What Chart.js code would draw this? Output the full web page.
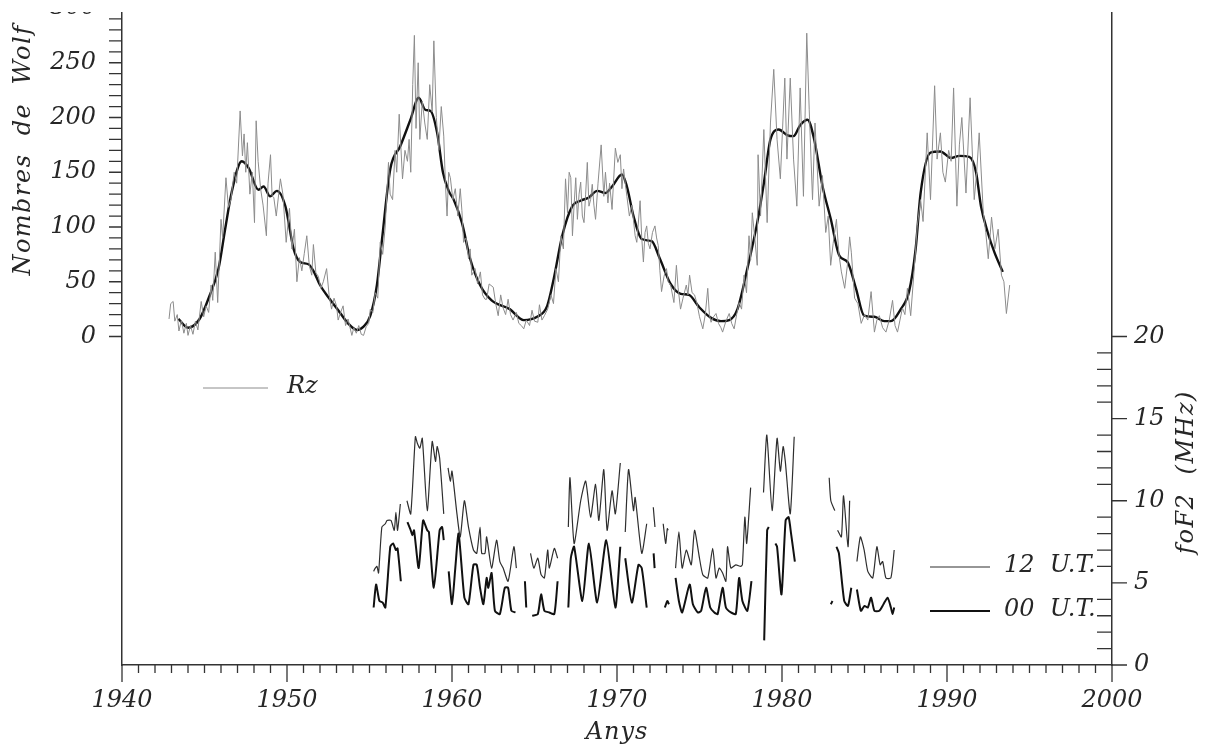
<!DOCTYPE html>
<html>
<head>
<meta charset="utf-8">
<script src="https://cdn.jsdelivr.net/npm/chart.js@4"></script>
<style>
    body { margin: 0; background: #fff; }
    canvas { display: block; }
</style>
</head>
<body>
<canvas id="myChart" width="1210" height="749"></canvas>
<script>
// eixos
const yearTicks = [1940, 1950, 1960, 1970, 1980, 1990, 2000]
const rzTicks = [0, 50, 100, 150, 200, 250, 300]
const fofTicks = [0, 5, 10, 15, 20]

// Rz mensual (línia fina)
const rzYears = [1942.85, 1942.95, 1943.1, 1943.2, 1943.35, 1943.45, 1943.6, 1943.75, 1943.9, 1944.0, 1944.15, 1944.3, 1944.45, 1944.6, 1944.8, 1944.95,
    1945.1, 1945.25, 1945.4, 1945.5, 1945.65, 1945.8, 1946.0, 1946.1, 1946.3, 1946.45, 1946.6, 1946.8, 1946.95, 1947.16, 1947.3, 1947.4, 1947.5, 1947.6, 1947.75, 1947.9,
    1948.03, 1948.13, 1948.25, 1948.4, 1948.55, 1948.75, 1948.85, 1949.0, 1949.1, 1949.2, 1949.35, 1949.6, 1949.75, 1949.95, 1950.15, 1950.3, 1950.45, 1950.6, 1950.75, 1950.9,
    1951.05, 1951.2, 1951.35, 1951.5, 1951.6, 1951.75, 1951.9, 1952.05, 1952.2, 1952.4, 1952.55, 1952.7, 1952.85, 1953.0, 1953.1, 1953.25, 1953.4, 1953.55, 1953.7, 1953.93,
    1954.05, 1954.2, 1954.35, 1954.5, 1954.64, 1954.8, 1954.95, 1955.05, 1955.2, 1955.35, 1955.5, 1955.65, 1955.8, 1955.95, 1956.05, 1956.15, 1956.25, 1956.4, 1956.55, 1956.65, 1956.8,
    1957.0, 1957.15, 1957.3, 1957.4, 1957.5, 1957.62, 1957.72, 1957.82, 1957.95, 1958.05, 1958.2, 1958.35, 1958.5, 1958.65, 1958.8, 1958.9, 1959.05, 1959.2, 1959.35, 1959.5, 1959.6, 1959.7, 1959.8, 1959.9,
    1960.05, 1960.2, 1960.35, 1960.5, 1960.6, 1960.7, 1960.85, 1961.0, 1961.1, 1961.2, 1961.4, 1961.55, 1961.72, 1961.85, 1962.0, 1962.1, 1962.25, 1962.5, 1962.65, 1962.8, 1962.95,
    1963.1, 1963.25, 1963.4, 1963.55, 1963.7, 1963.9, 1964.05, 1964.2, 1964.35, 1964.5, 1964.7, 1964.85, 1965.0, 1965.2, 1965.3, 1965.45, 1965.6, 1965.8, 1966.0, 1966.15, 1966.3, 1966.45, 1966.6, 1966.75, 1966.88,
    1967.0, 1967.1, 1967.2, 1967.3, 1967.4, 1967.5, 1967.6, 1967.7, 1967.8, 1967.9, 1968.0, 1968.1, 1968.2, 1968.3, 1968.4, 1968.5, 1968.6, 1968.7, 1968.85, 1969.04, 1969.2, 1969.3, 1969.45, 1969.55, 1969.7, 1969.9,
    1970.05, 1970.2, 1970.3, 1970.4, 1970.5, 1970.6, 1970.75, 1970.9, 1971.1, 1971.2, 1971.4, 1971.5, 1971.6, 1971.7, 1971.8, 1971.9, 1972.0, 1972.15, 1972.3, 1972.4, 1972.5, 1972.6, 1972.7, 1972.85,
    1973.0, 1973.1, 1973.25, 1973.45, 1973.6, 1973.7, 1973.85, 1974.0, 1974.2, 1974.3, 1974.4, 1974.55, 1974.7, 1974.85, 1975.0, 1975.2, 1975.35, 1975.5, 1975.6, 1975.7, 1975.85,
    1976.0, 1976.15, 1976.3, 1976.4, 1976.6, 1976.8, 1976.95, 1977.1, 1977.25, 1977.4, 1977.55, 1977.7, 1977.85, 1978.0, 1978.1, 1978.2, 1978.35, 1978.5, 1978.55, 1978.7, 1978.9,
    1979.1, 1979.3, 1979.5, 1979.7, 1979.9, 1980.17, 1980.3, 1980.5, 1980.7, 1980.9, 1981.1, 1981.3, 1981.5, 1981.65, 1981.85, 1982.0, 1982.25, 1982.45, 1982.65, 1982.8, 1982.95,
    1983.1, 1983.3, 1983.45, 1983.6, 1983.8, 1984.0, 1984.1, 1984.2, 1984.4, 1984.6, 1984.8, 1985.0, 1985.2, 1985.4, 1985.6, 1985.75, 1985.9, 1986.1, 1986.3, 1986.5, 1986.7, 1986.85,
    1987.0, 1987.15, 1987.3, 1987.45, 1987.6, 1987.8, 1988.0, 1988.2, 1988.4, 1988.55, 1988.8, 1989.0, 1989.25, 1989.4, 1989.6, 1989.75, 1989.9, 1990.1, 1990.25, 1990.4, 1990.6, 1990.75, 1990.9,
    1991.15, 1991.4, 1991.65, 1991.8, 1991.95, 1992.2, 1992.35, 1992.5, 1992.7, 1992.9, 1993.1, 1993.3, 1993.45, 1993.6, 1993.8]
const rzMonthly = [16, 30, 32, 14, 20, 5, 15, 3, 12, 1, 10, 2, 14, 6, 32, 18,
    28, 22, 47, 33, 77, 31, 107, 90, 145, 118, 125, 150, 140, 206, 165, 185, 150, 177, 130, 150,
    104, 197, 160, 135, 120, 92, 140, 166, 128, 127, 110, 144, 130, 86, 117, 80, 98, 50, 72, 60,
    76, 92, 65, 56, 84, 58, 55, 44, 50, 62, 38, 25, 35, 28, 15, 22, 28, 10, 16, 1,
    8, 3, 10, 2, 1, 9, 12, 25, 22, 40, 35, 86, 75, 100, 130, 159, 130, 125, 170, 150, 203,
    144, 170, 160, 180, 150, 230, 275, 190, 250, 180, 215, 195, 180, 230, 205, 270, 200, 170, 210, 183, 140, 110, 150, 145,
    125, 135, 110, 135, 115, 86, 90, 71, 80, 56, 62, 48, 59, 38, 34, 34, 48, 45, 30, 19, 38,
    26, 20, 34, 20, 15, 22, 12, 10, 7, 15, 10, 24, 14, 13, 29, 15, 19, 25, 38, 30, 62, 50, 92, 80, 144,
    113, 150, 145, 92, 120, 145, 107, 130, 141, 110, 104, 130, 159, 119, 125, 139, 120, 107, 140, 175, 128, 150, 122, 140, 116, 172,
    159, 166, 135, 153, 140, 128, 110, 120, 92, 86, 124, 90, 68, 95, 101, 85, 80, 95, 101, 90, 83, 60, 41, 55,
    62, 50, 47, 31, 65, 45, 25, 35, 47, 38, 56, 40, 38, 30, 18, 7, 20, 44, 20, 13, 18,
    21, 12, 8, 4, 14, 21, 12, 7, 20, 31, 25, 56, 40, 92, 70, 113, 90, 65, 166, 110, 189,
    104, 195, 244, 180, 144, 236, 162, 236, 162, 119, 227, 128, 277, 207, 125, 195, 119, 147, 95, 110, 65,
    85, 107, 75, 59, 44, 70, 91, 77, 35, 30, 12, 20, 15, 41, 4, 15, 19, 8, 4, 15, 33, 10,
    4, 15, 26, 20, 44, 19, 59, 101, 125, 105, 186, 125, 229, 162, 186, 150, 141, 170, 160, 227, 119, 175, 200,
    131, 218, 125, 150, 186, 113, 95, 71, 109, 80, 98, 56, 50, 21, 47]

// Rz suavitzat (línia gruixuda)
const rzSmoothYears = [1943.42, 1944.0, 1944.7, 1945.3, 1945.85, 1946.25, 1946.65, 1947.26, 1947.67, 1948.27, 1948.58, 1948.98, 1949.39, 1949.9,
    1950.4, 1950.8, 1951.3, 1951.6, 1952.0, 1952.6, 1953.2, 1953.7, 1954.24, 1954.64, 1955.05, 1955.45, 1955.76, 1956.26, 1956.87, 1957.48, 1957.98,
    1958.39, 1958.7, 1959.1, 1959.45, 1959.8, 1960.1, 1960.6, 1961.1, 1961.7, 1962.4, 1963.5, 1964.35, 1965.16, 1965.77, 1966.17, 1966.68,
    1967.29, 1967.79, 1968.3, 1968.8, 1969.3, 1969.7, 1970.3, 1970.6, 1971.0, 1971.5, 1972.1, 1972.6, 1973.25, 1973.86, 1974.36, 1974.97,
    1975.7, 1976.3, 1976.8, 1977.3, 1977.9, 1978.5, 1978.9, 1979.3, 1979.8, 1980.3, 1980.7, 1981.1, 1981.55, 1981.95, 1982.46, 1982.96,
    1983.47, 1983.97, 1984.48, 1984.98, 1985.6, 1986.2, 1986.6, 1987.2, 1987.7, 1988.1, 1988.4, 1989.0, 1989.6, 1990.24, 1990.75, 1991.35,
    1991.76, 1992.06, 1992.47, 1992.87, 1993.38]
const rzSmooth = [16, 8, 16, 37, 62, 98, 132, 160, 154, 134, 137, 128, 133, 119,
    80, 68, 66, 60, 47, 34, 22, 12, 6, 9, 19, 47, 89, 153, 174, 198, 218,
    207, 206, 186, 150, 133, 125, 104, 71, 47, 33, 25, 15, 18, 28, 53, 92,
    119, 124, 127, 133, 131, 137, 148, 137, 110, 89, 87, 71, 48, 39, 38, 27,
    17, 14, 15, 25, 62, 104, 140, 180, 189, 184, 183, 193, 198, 180, 137, 107,
    74, 68, 44, 19, 18, 14, 14, 25, 41, 80, 131, 168, 169, 163, 165, 164,
    150, 119, 95, 77, 59]

// foF2 a les 12 U.T. (null = buit)
const fof12Years = [1955.25, 1955.35, 1955.45, 1955.55, 1955.75, 1955.96, 1956.06, 1956.3, 1956.5, 1956.6, 1956.7, 1956.87, 1957.05,
    1957.27, 1957.5, 1957.78, 1957.9, 1958.05, 1958.2, 1958.5, 1958.8, 1959.0, 1959.1, 1959.25, 1959.5, 1959.62,
    1959.76, 1959.9, 1960.0, 1960.3, 1960.5, 1960.75, 1961.0, 1961.3, 1961.5, 1961.7, 1961.8, 1962.0, 1962.1, 1962.4, 1962.7, 1962.9,
    1963.1, 1963.4, 1963.75, 1963.9, 1964.3, 1964.76, 1964.96, 1965.2, 1965.4, 1965.6, 1965.8, 1965.9, 1966.2, 1966.4, 1966.7,
    1967.05, 1967.15, 1967.4, 1967.8, 1968.1, 1968.4, 1968.7, 1968.9, 1969.2, 1969.4, 1969.7, 1969.9, 1970.2, 1970.35,
    1970.5, 1970.7, 1971.0, 1971.1, 1971.5, 1971.8, 1972.0, 1972.2, 1972.3, 1972.55, 1972.8, 1972.95, 1973.05, 1973.1, 1973.3,
    1973.55, 1973.75, 1973.95, 1974.2, 1974.5, 1974.7, 1975.0, 1975.2, 1975.5, 1975.8, 1976.0, 1976.2, 1976.4, 1976.6, 1976.7, 1976.9,
    1977.2, 1977.5, 1977.6, 1977.75, 1977.86, 1978.1, 1978.5, 1978.88, 1979.08, 1979.4, 1979.7, 1979.9, 1980.07, 1980.2, 1980.5, 1980.74, 1981.8,
    1982.86, 1982.96, 1983.2, 1983.28, 1983.37, 1983.6, 1983.73, 1984.0, 1984.1, 1984.3,
    1984.54, 1984.75, 1984.98, 1985.2, 1985.5, 1985.75, 1985.95, 1986.1, 1986.3, 1986.6, 1986.8]
const fof12 = [5.7, 5.9, 6.0, 5.6, 8.4, 8.6, 8.8, 8.8, 8.2, 9.3, 8.2, 9.8, null,
    10.0, 9.2, 13.9, 13.5, 13.2, 13.8, 9.4, 13.6, 12.4, 13.3, 12.6, 9.2, null,
    12.0, 11.2, 11.8, 9.2, 7.8, 10.0, 8.4, 7.0, 6.8, 8.4, 6.8, 6.8, 7.8, 5.9, 7.6, 6.3,
    5.9, 5.1, 7.2, 5.9, null, 6.8, 5.9, 6.5, 5.5, 5.3, 7.0, 5.9, 7.1, 6.5, null,
    8.4, 11.4, 7.4, 10.0, 11.2, 9.0, 11.0, 8.8, 11.9, 8.2, 10.6, 9.2, 12.3, null,
    8.1, 11.9, 9.4, 10.2, 6.8, 8.6, null, 9.6, 8.4, null, 8.6, 7.4, 8.3, 8.2, null,
    5.9, 8.1, 5.9, 7.0, 6.1, 8.2, 6.5, 5.5, 5.3, 7.1, 5.3, 5.9, 5.6, 5.1, 7.2, 5.9,
    6.1, 6.0, 6.1, 9.0, 7.4, 10.8, null, 10.5, 14.0, 9.4, 13.8, 11.8, 13.3, 12.4, 9.2, 13.9, null,
    11.4, 10.0, 9.4, null, 8.2, 7.8, 10.3, 7.2, 10.0, null,
    6.3, 7.8, 7.0, 5.7, 5.3, 7.2, 6.1, 6.3, 5.3, 5.3, 7.0]

// foF2 a les 00 U.T.
const fof00Years = [1955.25, 1955.4, 1955.6, 1955.8, 1955.96, 1956.26, 1956.43, 1956.6, 1956.7, 1956.9, 1957.1,
    1957.3, 1957.5, 1957.6, 1957.7, 1957.98, 1958.25, 1958.5, 1958.6, 1958.9, 1959.25, 1959.4, 1959.5, 1959.65,
    1959.8, 1960.0, 1960.2, 1960.4, 1960.75, 1961.0, 1961.3, 1961.5, 1961.7, 1961.9, 1962.1, 1962.2, 1962.4, 1962.6, 1962.9,
    1963.2, 1963.4, 1963.6, 1963.85, 1964.2, 1964.42, 1964.5, 1964.7, 1964.86, 1965.2, 1965.4, 1965.6, 1965.9, 1966.2, 1966.4, 1966.7,
    1967.05, 1967.2, 1967.4, 1967.9, 1968.3, 1968.8, 1969.35, 1969.9, 1970.2, 1970.35, 1970.5, 1970.9, 1971.3, 1971.5, 1971.8, 1972.0,
    1972.22, 1972.28, 1972.6, 1972.9, 1973.05, 1973.15, 1973.35, 1973.55, 1973.75, 1973.95, 1974.4, 1974.6, 1974.9, 1975.1, 1975.4, 1975.65, 1975.9,
    1976.1, 1976.4, 1976.6, 1976.9, 1977.2, 1977.4, 1977.6, 1977.9, 1978.15, 1978.5, 1978.92, 1979.1, 1979.2, 1979.4,
    1979.6, 1979.7, 1979.97, 1980.22, 1980.4, 1980.55, 1980.78, 1981.8, 1982.96, 1983.06, 1983.18, 1983.3, 1983.45, 1983.77, 1984.0, 1984.2, 1984.35,
    1984.54, 1984.78, 1985.0, 1985.2, 1985.4, 1985.6, 1985.9, 1986.15, 1986.4, 1986.6, 1986.7, 1986.8]
const fof00 = [3.5, 4.9, 3.9, 3.8, 3.5, 7.2, 7.4, 7.0, 7.1, 5.1, null,
    8.7, 8.2, 7.9, 8.2, 5.9, 8.8, 8.2, 8.1, 4.7, 8.2, 8.4, 7.6, null,
    5.7, 3.7, 5.9, 8.0, 4.1, 3.7, 6.1, 6.1, 4.7, 3.7, 5.3, 4.7, 5.6, 3.3, 3.1,
    4.7, 4.7, 3.3, 3.2, null, 5.1, 3.5, null, 3.0, 3.1, 4.3, 3.3, 3.2, 3.1, 5.1, null,
    3.5, 6.5, 7.2, 3.9, 7.4, 3.8, 7.6, 3.5, 7.2, null, 6.5, 3.8, 6.1, 5.9, 3.5, null,
    6.8, 5.9, null, 3.5, 3.9, 3.7, null, 5.3, 3.9, 3.2, 4.9, 3.7, 3.2, 3.3, 4.7, 3.5, 3.2,
    3.1, 4.7, 3.5, 3.2, 3.1, 5.3, 3.9, 3.3, 5.1, null, 1.5, 8.2, 8.4, null,
    7.4, 7.2, 4.3, 8.8, 9.0, 8.0, 6.3, null, 3.7, 3.9, null, 7.2, 6.8, 3.9, 3.6, 4.7, null,
    4.6, 3.3, 3.6, 3.5, 4.1, 3.3, 3.3, 3.7, 4.1, 3.5, 3.1, 3.5]

const serif = "'DejaVu Serif', serif"
const ink = '#262626'

function pairs(xs, ys) {
    return xs.map((x, i) => ({ x: x, y: ys[i] }))
}

function fixAxis(size, vertical) {
    return function (s) {
        if (vertical) s.width = size
        else s.height = size
        s.paddingTop = 0
        s.paddingBottom = 0
        s.paddingLeft = 0
        s.paddingRight = 0
    }
}

// marques, títols i llegenda
const decor = {
    id: 'decor',
    afterDraw(chart) {
        const ctx = chart.ctx
        const a = chart.chartArea
        const sx = chart.scales.x, sy = chart.scales.y, sy2 = chart.scales.y2
        ctx.save()
        ctx.strokeStyle = '#333'
        ctx.lineWidth = 1.3
        ctx.beginPath()
        for (let v = yearTicks[0]; v <= yearTicks[yearTicks.length - 1]; v++) {
            const px = sx.getPixelForValue(v)
            ctx.moveTo(px, a.bottom)
            ctx.lineTo(px, a.bottom + (v % 10 === 0 ? 17 : 8))
        }
        for (let v = rzTicks[0]; v <= rzTicks[rzTicks.length - 1]; v += 10) {
            const py = sy.getPixelForValue(v)
            ctx.moveTo(a.left, py)
            ctx.lineTo(a.left - 13, py)
        }
        for (let v = fofTicks[0]; v <= fofTicks[fofTicks.length - 1]; v++) {
            const py = sy2.getPixelForValue(v)
            ctx.moveTo(a.right, py)
            ctx.lineTo(v % 5 === 0 ? a.right + 15 : a.right - 15, py)
        }
        ctx.stroke()

        // el full original està retallat per dalt
        ctx.fillStyle = '#fff'
        ctx.fillRect(0, 0, chart.width, 12)

        ctx.fillStyle = ink
        ctx.font = 'italic 24px ' + serif
        ctx.textBaseline = 'middle'
        ctx.letterSpacing = '1px'

        ctx.textAlign = 'center'
        ctx.fillText('Anys', sx.getPixelForValue(1970), 733)

        ctx.letterSpacing = '1.5px'
        ctx.save()
        ctx.translate(24, 150)
        ctx.rotate(-Math.PI / 2)
        ctx.fillText('Nombres  de  Wolf', 0, 0)
        ctx.restore()

        ctx.save()
        ctx.translate(1187, 472)
        ctx.rotate(-Math.PI / 2)
        ctx.fillText('foF2  (MHz)', 0, 0)
        ctx.restore()

        const items = [
            { ds: 0, x: 203, y: 388, label: 'Rz' },
            { ds: 2, x: 930, y: 567, label: '12  U.T.' },
            { ds: 3, x: 930, y: 611, label: '00  U.T.' }
        ]
        ctx.letterSpacing = '0px'
        ctx.textAlign = 'left'
        items.forEach(it => {
            const ds = chart.data.datasets[it.ds]
            ctx.strokeStyle = ds.borderColor
            ctx.lineWidth = ds.borderWidth
            ctx.beginPath()
            ctx.moveTo(it.x, it.y)
            ctx.lineTo(it.x + (it.ds === 0 ? 65 : 60), it.y)
            ctx.stroke()
            ctx.fillText(it.label, it.x + (it.ds === 0 ? 84 : 74), it.y - 1)
        })
        ctx.restore()
    }
}

const tickFont = { family: serif, size: 24, style: 'italic' }

new Chart("myChart", {
    type: "line",
    data: {
        datasets: [{
            data: pairs(rzYears, rzMonthly),
            yAxisID: 'y',
            borderColor: '#8c8c8c',
            borderWidth: 1,
            pointRadius: 0,
            tension: 0
        }, {
            data: pairs(rzSmoothYears, rzSmooth),
            yAxisID: 'y',
            borderColor: '#111111',
            borderWidth: 2.4,
            pointRadius: 0,
            cubicInterpolationMode: 'monotone'
        }, {
            data: pairs(fof12Years, fof12),
            yAxisID: 'y2',
            borderColor: '#2e2e2e',
            borderWidth: 1.2,
            pointRadius: 0,
            spanGaps: false,
            tension: 0.2
        }, {
            data: pairs(fof00Years, fof00),
            yAxisID: 'y2',
            borderColor: '#111111',
            borderWidth: 2,
            pointRadius: 0,
            spanGaps: false,
            tension: 0.2
        }]
    },
    options: {
        responsive: false,
        animation: false,
        layout: { padding: { top: 8, left: 0, right: 0, bottom: 0 } },
        plugins: {
            legend: { display: false },
            tooltip: { enabled: false }
        },
        scales: {
            x: {
                type: 'linear',
                position: 'bottom',
                min: 1940,
                max: 2000,
                afterBuildTicks: s => { s.ticks = yearTicks.map(v => ({ value: v })) },
                afterFit: fixAxis(84, false),
                grid: { drawOnChartArea: false, drawTicks: false },
                border: { color: '#333', width: 1.5 },
                ticks: { autoSkip: false, maxRotation: 0, padding: 21, color: ink, font: tickFont, callback: v => String(v) }
            },
            y: {
                position: 'left',
                min: -300,
                max: 300,
                afterBuildTicks: s => { s.ticks = rzTicks.map(v => ({ value: v })) },
                afterFit: fixAxis(122, true),
                grid: { drawOnChartArea: false, drawTicks: false },
                border: { color: '#333', width: 1.5 },
                ticks: { autoSkip: false, padding: 26, color: ink, font: tickFont }
            },
            y2: {
                position: 'right',
                min: 0,
                max: 40,
                afterBuildTicks: s => { s.ticks = fofTicks.map(v => ({ value: v })) },
                afterFit: fixAxis(98, true),
                grid: { drawOnChartArea: false, drawTicks: false },
                border: { color: '#333', width: 1.5 },
                ticks: { autoSkip: false, padding: 22, color: ink, font: tickFont }
            }
        }
    },
    plugins: [decor]
})
</script>
</body>
</html>
